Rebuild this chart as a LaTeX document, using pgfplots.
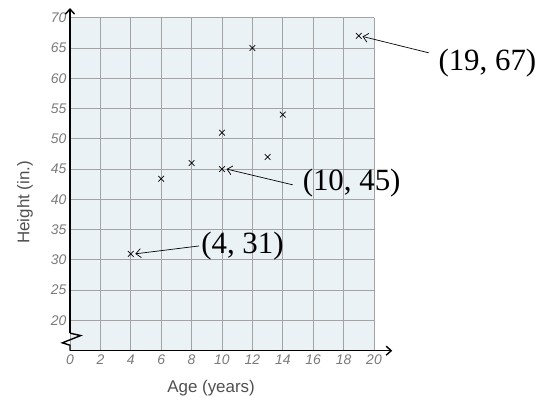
\documentclass[border=0pt]{standalone}
\usepackage{fontspec}
\setmainfont{Liberation Serif}
\newfontfamily\hand{Liberation Sans}
\usepackage{pgfplots}
\pgfplotsset{compat=1.18}
\usetikzlibrary{arrows.meta}
\definecolor{bgfill}{HTML}{EAF2F5}
\definecolor{gridc}{HTML}{A3A3A3}
\definecolor{tickc}{HTML}{7A7A7A}
\definecolor{labc}{HTML}{505050}
\begin{document}
\begin{tikzpicture}
\useasboundingbox (0,0) rectangle (547bp,397bp);
\begin{axis}[
  at={(70bp,46.3bp)}, anchor=south west,
  scale only axis, width=304bp, height=333bp,
  xmin=0, xmax=20, ymin=15, ymax=70,
  clip=false,
  axis line style={draw=none},
  axis background/.style={fill=bgfill},
  xtick={0,2,...,20}, ytick={20,25,...,70},
  major tick length=0pt,
  grid=major,
  major grid style={draw=gridc, line width=0.9pt},
  /pgf/number format/assume math mode=true,
  ticklabel style={font=\hand\itshape\fontsize{14}{14}\selectfont, text=tickc},
  xticklabel style={yshift=-1bp},
  yticklabel style={xshift=0bp},
]
\addplot[only marks, mark=x, mark size=4bp, mark options={line width=0.7pt, black}] coordinates {
  (4,31) (6,43.4) (8,46) (10,51) (10,45) (12,65) (13,47) (14,54) (19,67)
};
% axes
\draw[line width=1.4pt, -{Straight Barb[length=5bp,width=9bp]}] (axis cs:0,15) -- (axis cs:21.2,15);
\draw[line width=1.4pt] (axis cs:0,15) -- (axis cs:0,15.9) -- (axis cs:-0.5,16.3) -- (axis cs:0.7,17.5) -- (axis cs:0,17.9);
\draw[line width=1.4pt, -{Straight Barb[length=5bp,width=9bp]}] (axis cs:0,17.9) -- (axis cs:0,71.6);
% axis labels
\node[font=\hand\fontsize{17}{17}\selectfont, text=labc] at (axis cs:9.28,8.85) {Age (years)};
\node[font=\hand\fontsize{17}{17}\selectfont, text=labc, rotate=90] at (axis cs:-2.96,39.5) {Height (in.)};
% annotations
\node[font=\fontsize{31}{31}\selectfont] at (axis cs:27.46,62.5) {(19, 67)};
\draw[line width=0.7pt, -{Straight Barb[length=5bp,width=9bp]}] (axis cs:23.6,64.2) -- (axis cs:19.25,66.9);
\node[font=\fontsize{31}{31}\selectfont] at (axis cs:18.53,42.7) {(10, 45)};
\draw[line width=0.7pt, -{Straight Barb[length=5bp,width=9bp]}] (axis cs:14.65,42.4) -- (axis cs:10.3,45);
\node[font=\fontsize{31}{31}\selectfont] at (axis cs:11.35,32.2) {(4, 31)};
\draw[line width=0.7pt, -{Straight Barb[length=5bp,width=9bp]}] (axis cs:8.49,32.3) -- (axis cs:4.3,31);
\end{axis}
\end{tikzpicture}
\end{document}
